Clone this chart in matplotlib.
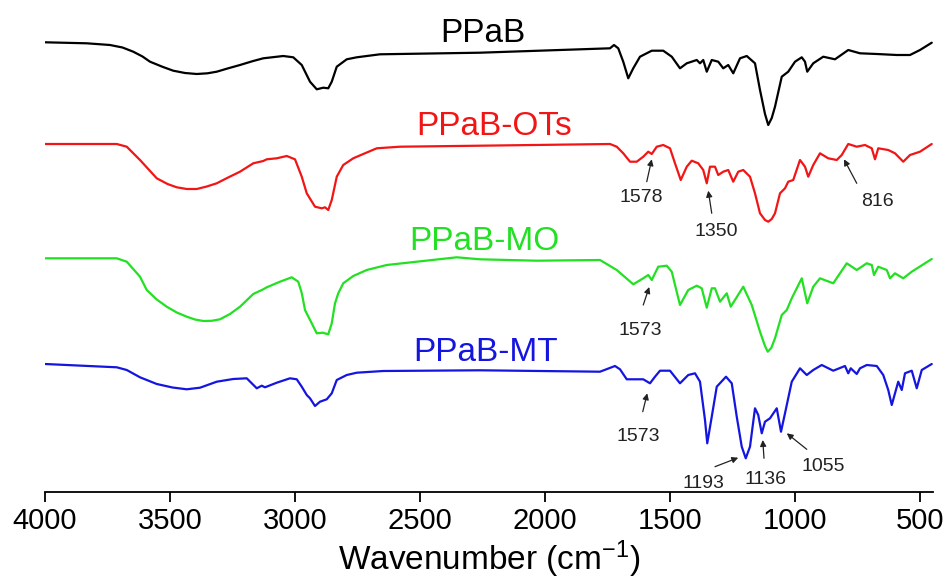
"""FTIR spectra of PPaB and its derivatives (stacked, offset traces)."""
import matplotlib
matplotlib.use('Agg')
import matplotlib.pyplot as plt

plt.rcParams['font.family'] = ['Liberation Sans', 'DejaVu Sans']
plt.rcParams['mathtext.fontset'] = 'custom'
plt.rcParams['mathtext.rm'] = 'Liberation Sans'
plt.rcParams['mathtext.it'] = 'Liberation Sans'
plt.rcParams['axes.unicode_minus'] = False

# --- data: wavenumber (cm-1) and offset trace level (larger = lower on plot)
ppab_wn = [4000, 3833, 3740, 3690, 3647, 3610, 3580, 3530, 3487, 3440, 3393, 3350, 3313,
           3270, 3220, 3170, 3127, 3047, 3007,
           2973, 2940, 2913, 2887, 2867, 2853, 2833, 2793, 2753, 2660, 2260, 1740,
           1724, 1707, 1687, 1667, 1647, 1620, 1573, 1527, 1493, 1460, 1433, 1393,
           1380, 1367, 1353, 1333, 1307, 1287, 1267, 1247, 1220, 1193, 1160, 1140,
           1120, 1107, 1093, 1080, 1053, 1027, 1000, 973, 960, 951, 927, 887, 840, 787, 740,
           673, 593, 540, 500, 453]
ppab_y = [42.3, 43.3, 45, 47.5, 51.7, 56.5, 61.7, 66.8, 70.7, 73, 74, 73.3, 71.7,
          68.5, 65, 61.2, 58.3, 56, 57.3,
          65, 81.7, 89.3, 87.7, 88.3, 81.7, 66.7, 59.3, 57.3, 54.3, 52.7, 48.3,
          45, 48.3, 61.7, 78.3, 68.3, 56.7, 50.7, 50.7, 56.7, 68.3, 63.3, 60,
          63.3, 60, 71.7, 60, 61.7, 68.3, 65, 73.3, 58.3, 56, 63.3, 90,
          114, 125, 118, 106.7, 76.7, 71.7, 61.7, 57.3, 61.7, 71.7, 63.3, 56.7, 59.3, 50, 53.3,
          54, 55, 55, 50, 42.7]

ots_wn = [4000, 3713, 3673, 3620, 3553, 3510, 3473, 3433, 3393, 3353, 3313, 3270, 3220, 3167, 3127, 3113,
          3073, 3033, 3000, 2973, 2953, 2920, 2893, 2880, 2867, 2853, 2833, 2807,
          2767, 2727, 2673, 2580, 2260, 1740, 1713, 1687, 1660, 1633, 1607, 1587,
          1573, 1553, 1527, 1500, 1480, 1457, 1433, 1413, 1387, 1367, 1353, 1340,
          1320, 1307, 1287, 1267, 1247, 1227, 1207, 1180, 1160, 1140, 1120, 1107, 1093, 1080,
          1060, 1040, 1027, 1007, 980, 960, 947, 927, 900, 867, 833, 813, 787, 753,
          720, 693, 680, 667, 627, 600, 567, 540, 500, 453]
ots_y = [144, 144, 146.7, 160, 178.3, 184, 187.3, 189, 189, 186.5, 183.3, 177.8, 171.7, 163.3, 161, 159.3,
         158.3, 156, 159.3, 176.7, 193.3, 206.7, 208.3, 207.3, 210, 200, 176.7, 165,
         158.3, 154, 148.3, 146.7, 145.7, 144, 146.7, 153.3, 161.7, 161.7, 156.7, 151.7,
         154, 146.7, 145, 148.3, 163.3, 180, 166.7, 160.7, 163.3, 170, 183.3, 166.7,
         166.7, 175, 171.7, 170, 181.7, 171.7, 170, 176.7, 193.3, 213.3, 220, 221.7, 219, 213.3,
         193.3, 188.3, 181.7, 180, 160, 166.7, 176.7, 165, 153.3, 158.3, 160, 155, 144, 146.7,
         145, 148.3, 159.3, 148.3, 150, 153.3, 161.7, 155, 151.7, 144]

mo_wn = [4000, 3713, 3673, 3620, 3593, 3553, 3513, 3473, 3433, 3400, 3367, 3333, 3300, 3260, 3220, 3167, 3127,
         3113, 3060, 3013, 2987, 2973, 2960, 2933, 2913, 2889, 2867, 2853, 2840,
         2827, 2807, 2767, 2713, 2633, 2513, 2353, 2260, 2033, 1780, 1713, 1647,
         1607, 1587, 1573, 1547, 1513, 1493, 1460, 1427, 1393, 1373, 1353, 1333,
         1320, 1300, 1273, 1257, 1207, 1173, 1140, 1120, 1109, 1095, 1080, 1053, 1033, 1013,
         973, 951, 927, 900, 847, 793, 753, 713, 693, 684, 667, 633, 620, 600,
         567, 533, 453]
mo_y = [258.3, 258.3, 261.7, 276.7, 290, 299.5, 306.7, 312.5, 316.7, 319.5, 321, 320.8, 319.3, 314, 306.7, 294, 289.3,
        287.3, 281.7, 277.3, 281.7, 293, 310, 323.3, 333.3, 332.7, 334.3, 323.3, 303.3,
        293.3, 283.3, 276, 270, 265, 261.7, 257.3, 259.3, 260.7, 260, 270, 284.3,
        278.3, 275, 280, 266.7, 265.7, 271.7, 305, 290, 285.7, 288.3, 307.7, 288.3,
        288.3, 301.7, 293.3, 306.7, 286.7, 305, 331.7, 346, 351.7, 348, 338.3, 315, 310, 298.3,
        278.3, 303.3, 286.7, 278.3, 283.3, 263.3, 270, 263.3, 265, 275, 266.7, 270, 278.3, 273.3,
        278.3, 271.7, 259]

mt_wn = [4000, 3713, 3673, 3620, 3553, 3490, 3433, 3380, 3313, 3247, 3193, 3173, 3153,
         3133, 3120, 3073, 3020, 2993, 2973, 2953, 2940, 2920, 2900, 2873, 2853,
         2833, 2793, 2753, 2647, 2260, 1780, 1720, 1700, 1673, 1607, 1580, 1560,
         1540, 1500, 1460, 1427, 1400, 1380, 1360, 1351, 1333, 1313, 1276, 1253,
         1233, 1213, 1197, 1180, 1160, 1147, 1133, 1120, 1100, 1073, 1056, 1040,
         1013, 980, 953, 927, 893, 847, 800, 787, 777, 753, 740, 713, 673, 647,
         627, 613, 600, 587, 573, 560, 533, 513, 493, 453]
mt_y = [364, 367.3, 370, 377.3, 384, 387.5, 389.3, 387.7, 381.7, 379, 378.3, 383.3, 388.3,
        385.7, 387.3, 382.7, 378.3, 379.3, 386.7, 395, 398.3, 406, 401.7, 399.3, 393.3,
        380, 375, 372.7, 371, 370.3, 371.7, 366, 369.3, 379.3, 379.3, 383.3, 376.7,
        370.7, 370.7, 383.3, 375, 373.3, 381.7, 420, 443.3, 416.7, 386.7, 376.7, 383.3,
        416.7, 446.7, 458.3, 446.7, 408.3, 415, 433.3, 421.7, 418.3, 408.3, 431.7, 413.3,
        381.7, 368.3, 375, 370, 365, 370.7, 366, 373.3, 368.3, 374, 368.3, 365, 366, 375,
        390, 405, 393.3, 381.7, 390, 373.3, 370.7, 388.3, 370, 364]

names = ['PPaB', 'PPaB-OTs', 'PPaB-MO', 'PPaB-MT']
colors = ['black', '#f21515', '#22e022', '#1515e0']
name_pos = [(2248, 42), (2204, 135), (2244, 250), (2236, 360.7)]

# peak labels: text, peak position (arrow head), arrow tail, text baseline
peak_labels = ['1578', '1350', '816', '1573', '1573', '1193', '1136', '1055']
peak_head = [(1573, 159.3), (1347, 190.7), (804, 159.3), (1583, 287),
             (1591, 393.3), (1227, 457.7), (1129, 440), (1033, 433.3)]
peak_tail = [(1593, 181.7), (1333, 213.3), (753, 183.3), (1607, 305),
             (1609, 411.7), (1320, 466.7), (1124, 458.3), (953, 449.3)]
peak_text = [(1617, 201.7), (1317, 236), (671, 206), (1620, 335),
             (1627, 440.7), (1367, 488.3), (1120, 484), (889, 470.7)]

fig = plt.figure(figsize=(9.46, 5.85), dpi=100)
ax = fig.add_axes([45 / 946, 93 / 585, 887.5 / 946, 492 / 585])

for wn, y, c in zip([ppab_wn, ots_wn, mo_wn, mt_wn], [ppab_y, ots_y, mo_y, mt_y], colors):
    ax.plot(wn, y, color=c, lw=1.6, solid_joinstyle='round', solid_capstyle='round')

for name, (x, y), c in zip(names, name_pos, colors):
    ax.text(x, y, name, color=c, fontsize=24, ha='center', va='baseline')

for lab, head, tail, pos in zip(peak_labels, peak_head, peak_tail, peak_text):
    ax.annotate('', xy=head, xytext=tail,
                arrowprops=dict(arrowstyle='-|>', color='#222222', lw=0.9,
                                mutation_scale=9, shrinkA=0, shrinkB=0))
    ax.text(pos[0], pos[1], lab, fontsize=14, color='#222222',
            ha='center', va='baseline')

ax.set_xlim(4000, 450)
ax.set_ylim(492, 0)
ax.set_xticks([4000, 3500, 3000, 2500, 2000, 1500, 1000, 500])
ax.tick_params(axis='x', direction='out', length=7, width=1.3, labelsize=21, pad=4)
ax.set_yticks([])
for side in ['left', 'right', 'top']:
    ax.spines[side].set_visible(False)
ax.spines['bottom'].set_linewidth(1.3)
ax.set_xlabel('Wavenumber (cm$^{-1}$)', fontsize=24, labelpad=2)

fig.savefig('out.png', dpi=100)
